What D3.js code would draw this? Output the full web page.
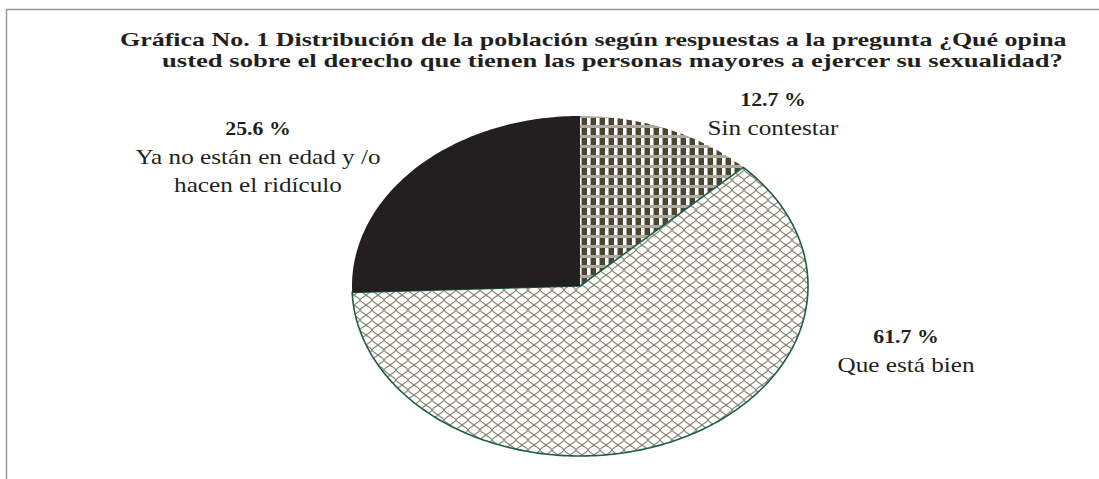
<!DOCTYPE html>
<html lang="es">
<head>
<meta charset="UTF-8">
<title>Gráfica No. 1</title>
<script src="https://d3js.org/d3.v7.min.js"></script>
<style>
    body { margin: 0; background: #fff; }
    svg { display: block; }
    text { font-family: "Liberation Serif", "Times New Roman", serif; fill: #231f20; }
</style>
</head>
<body>
<svg></svg>
<script>
    // data
    const categories = ["Sin contestar", "Que está bien", "Ya no están en edad y /o hacen el ridículo"];
    const values = [12.7, 61.7, 25.6];
    const valueLabels = ["12.7 %", "61.7 %", "25.6 %"];
    const labelLines = [["Sin contestar"], ["Que está bien"], ["Ya no están en edad y /o", "hacen el ridículo"]];
    const titleLines = [
        "Gráfica No. 1 Distribución de la población  según respuestas a la  pregunta ¿Qué opina",
        "usted sobre el derecho que tienen las personas mayores a ejercer su sexualidad?"
    ];

    const width = 1099, height = 479;
    const cx = 580, cy = 286, rx = 228, ry = 170;
    const stretch = 1.2; // the reference text is drawn wide

    const svg = d3.select("svg").attr("width", width).attr("height", height);
    const defs = svg.append("defs");

    // checker pattern (Sin contestar)
    const chk = defs.append("pattern").attr("id", "checker")
        .attr("patternUnits", "userSpaceOnUse").attr("width", 9).attr("height", 10)
        .attr("x", 573).attr("y", 115);
    chk.append("rect").attr("width", 9).attr("height", 10).attr("fill", "#fff");
    chk.append("rect").attr("width", 9).attr("height", 3).attr("fill", "#aeaa9f");
    chk.append("rect").attr("y", 3).attr("width", 5).attr("height", 7).attr("fill", "#4a4431");
    chk.append("rect").attr("x", 8).attr("y", 3).attr("width", 1).attr("height", 7).attr("fill", "#aeaa9f");

    // wavy mesh pattern (Que está bien)
    const wave = defs.append("pattern").attr("id", "wave")
        .attr("patternUnits", "userSpaceOnUse").attr("width", 12).attr("height", 10);
    wave.append("rect").attr("width", 12).attr("height", 10).attr("fill", "#fff");
    wave.append("path")
        .attr("d", "M0,10 C2,7 4,7 6,5 C8,3 10,3 12,0 M0,0 C2,3 4,3 6,5 C8,7 10,7 12,10")
        .attr("fill", "none").attr("stroke", "#8a8574").attr("stroke-width", 1.1);

    const fills = ["url(#checker)", "url(#wave)", "#231f20"];
    const strokes = ["none", "#1d5f48", "none"];

    // frame
    svg.append("path").attr("d", `M6.5,${height} V9.5 H${width}`)
        .attr("fill", "none").attr("stroke", "#999").attr("stroke-width", 1.5);

    // title: each line stretched to the width it has in the reference
    const titleBox = [[120, 46, 947], [162, 67, 901]];
    titleLines.forEach((line, i) => {
        const [x, y, w] = titleBox[i];
        const t = svg.append("text")
            .attr("font-weight", "bold").attr("font-size", 19.5)
            .text(line);
        const sx = w / t.node().getComputedTextLength();
        t.attr("transform", `translate(${x},${y}) scale(${sx},1)`);
    });

    // pie on an ellipse
    const pie = d3.pie().sort(null).value(d => d)
        .startAngle(0).endAngle(2 * Math.PI);
    const arcs = pie(values);

    const ellipseLine = d3.line();
    function slicePath(a) {
        const n = Math.max(8, Math.ceil((a.endAngle - a.startAngle) * 60));
        const pts = [[cx, cy]];
        for (let i = 0; i <= n; i++) {
            const t = a.startAngle + (a.endAngle - a.startAngle) * i / n;
            pts.push([cx + rx * Math.sin(t), cy - ry * Math.cos(t)]);
        }
        return ellipseLine(pts) + "Z";
    }

    svg.append("g").selectAll("path")
        .data(arcs)
        .join("path")
        .attr("d", slicePath)
        .attr("fill", (d, i) => fills[i])
        .attr("stroke", (d, i) => strokes[i])
        .attr("stroke-width", 1.6)
        .attr("stroke-linejoin", "round");

    // labels
    const labelPos = [[773, 106], [906, 343], [258, 135]];
    const labels = svg.append("g").selectAll("g")
        .data(arcs)
        .join("g")
        .attr("transform", (d, i) => `translate(${labelPos[i][0]},${labelPos[i][1]})`);

    labels.append("text")
        .attr("text-anchor", "middle")
        .attr("font-weight", "bold").attr("font-size", 19.5)
        .attr("transform", `scale(1.12,1)`)
        .text((d, i) => valueLabels[i]);

    labels.each(function (d, i) {
        const g = d3.select(this);
        labelLines[i].forEach((line, j) => {
            g.append("text")
                .attr("text-anchor", "middle")
                .attr("font-size", 21)
                .attr("transform", `translate(0,${28.5 * (j + 1)}) scale(${stretch},1)`)
                .text(line);
        });
    });
</script>
</body>
</html>
